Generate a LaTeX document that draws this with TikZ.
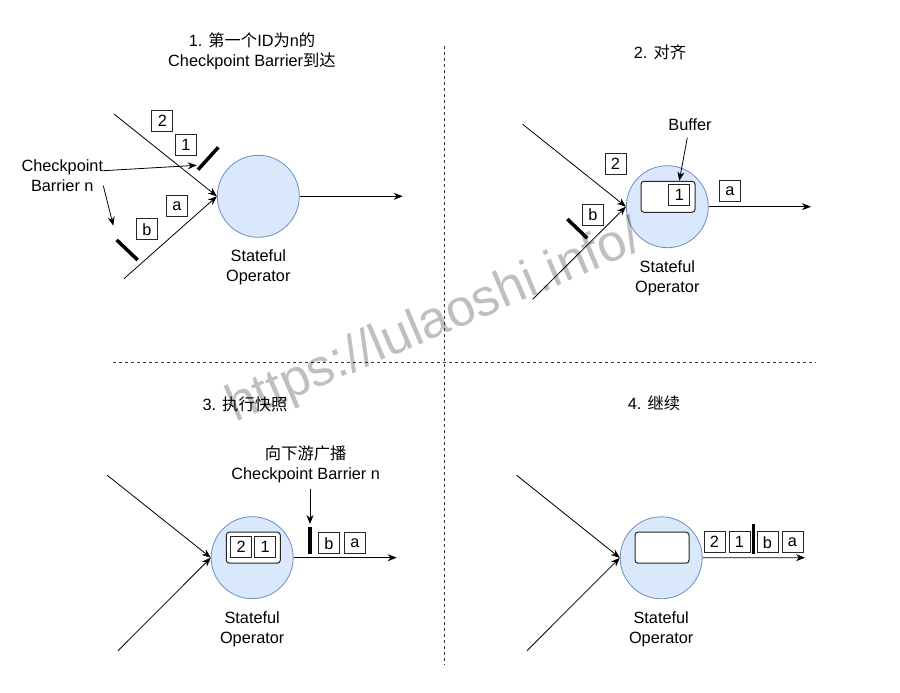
\documentclass[tikz,border=0pt]{standalone}
\usepackage{fontspec}
\setmainfont{Liberation Sans}
\newfontfamily\cjk{Noto Sans CJK SC}
\newcommand{\zhtext}[1]{{\cjk #1}}
\usetikzlibrary{positioning,arrows.meta}
\usepackage{xcolor}
\definecolor{opfill}{RGB}{218,232,252}
\definecolor{opline}{RGB}{108,142,191}

\begin{document}
\begin{tikzpicture}[x=1pt, y=-1pt, node distance=3pt,
  every node/.style={font=\fontsize{16.3}{20}\selectfont},
  op/.style={circle, draw=opline, fill=opfill, line width=0.8pt, minimum size=82pt, inner sep=0pt},
  oplabel/.style={align=center, inner sep=0pt},
  cell/.style={draw=black!85, line width=1pt, minimum size=21pt, inner sep=0pt, fill=white},
  bufbox/.style={draw=black!85, line width=1pt, rounded corners=3pt, minimum width=54pt, minimum height=31pt, fill=white},
  arr/.style={-{Stealth[length=9pt,width=7pt]}, line width=0.8pt},
  barrier/.style={line width=3.5pt},
  divider/.style={line width=1pt, black!80, dash pattern=on 3pt off 3pt}]
\useasboundingbox (0,0) rectangle (900,693);

\draw[divider] (444.3,46) -- (444.3,665);
\draw[divider] (113.3,362.3) -- (816,362.3);

\node[align=center] (title1) at (252,51.7) {1. \zhtext{第一个}ID\zhtext{为}n\zhtext{的}\\Checkpoint Barrier\zhtext{到达}};
\node[op] (op1) at (258.3,196.3) {};
\node[oplabel, below=12pt of op1] (oplbl1) {Stateful\\Operator};
\coordinate (src1a) at (114,114);
\coordinate (src1b) at (124,278.7);
\coordinate (out1) at (402.7,196.3);
\draw[arr] (src1a) -- (op1.west);
\draw[arr] (src1b) -- (op1.west);
\draw[arr] (op1.east) -- (out1);
\node[cell] (two1) at (162.3,121) {2};
\node[cell] (one1) at (186,144.7) {1};
\node[cell] (a1) at (176.8,206) {a};
\node[cell] (b1) at (146.8,229.3) {b};
\draw[barrier] (198,169.7) -- (218.3,147.3);
\draw[barrier] (116.7,240) -- (137.7,260);
\node[oplabel] (cpn) at (62.3,175.7) {Checkpoint\\Barrier n};
\coordinate (cpntip1) at (196.7,165.3);
\coordinate (cpntip2) at (113.3,225.7);
\draw[arr] ([yshift=5pt]cpn.east) -- (cpntip1);
\draw[arr] ([yshift=-10pt]cpn.east) -- (cpntip2);

\node (title2) at (660,52.3) {2. \zhtext{对齐}};
\node[op] (op2) at (667.3,206.7) {};
\node[oplabel, below=12pt of op2] (oplbl2) {Stateful\\Operator};
\coordinate (src2a) at (522.7,124.3);
\coordinate (src2b) at (532.7,299.3);
\coordinate (out2) at (811,206.7);
\draw[arr] (src2a) -- (op2.west);
\draw[arr] (src2b) -- (op2.west);
\draw[arr] (op2.east) -- (out2);
\node[cell] (two2) at (615.5,163.5) {2};
\node[cell] (b2) at (592.8,214.7) {b};
\draw[barrier] (567.3,219) -- (587.3,238.3);
\node[bufbox] (buf2) at (668,196.8) {};
\node[cell] (one2) at (679.3,195.2) {1};
\node[cell] (a2) at (729.8,191.3) {a};
\node (buflbl) at (690,124.3) {Buffer};
\draw[arr, shorten <=4pt] ([xshift=-2pt]buflbl.south) -- (one2.north |- buf2.north);

\node (title3) at (245,404) {3. \zhtext{执行快照}};
\node[op] (op3) at (252.2,557.7) {};
\node[oplabel, below=12pt of op3] (oplbl3) {Stateful\\Operator};
\coordinate (src3a) at (107.3,475.3);
\coordinate (src3b) at (118,650.7);
\coordinate (out3) at (396.7,557.7);
\draw[arr] (src3a) -- (op3.west);
\draw[arr] (src3b) -- (op3.west);
\draw[arr] (op3.east) -- (out3);
\node[bufbox] (buf3) at (253.3,547.7) {};
\node[cell] (two3) at (241.2,546.5) {2};
\node[cell, right=2pt of two3] (one3) {1};
\coordinate (bar3top) at (310,527);
\coordinate (bar3bot) at (310,554.3);
\draw[barrier] (bar3top) -- (bar3bot);
\node[cell] (b3) at (328.8,543.2) {b};
\node[cell, right=4pt of b3] (a3) {a};
\node[oplabel] (bcast) at (305.7,464.5) {\zhtext{向下游广播}\\Checkpoint Barrier n};
\draw[arr, shorten <=6pt, shorten >=3pt] (bcast.south -| bar3top) -- (bar3top);

\node (title4) at (654,403.3) {4. \zhtext{继续}};
\node[op] (op4) at (661.2,557.8) {};
\node[oplabel, below=12pt of op4] (oplbl4) {Stateful\\Operator};
\coordinate (src4a) at (516.7,475.3);
\coordinate (src4b) at (527,650.7);
\coordinate (out4) at (805,557.7);
\draw[arr] (src4a) -- (op4.west);
\draw[arr] (src4b) -- (op4.west);
\draw[arr] (op4.east) -- (out4);
\node[bufbox] (buf4) at (662,547.7) {};
\node[cell] (two4) at (714.5,542.3) {2};
\node[cell, right=3pt of two4] (one4) {1};
\draw[barrier] (753.3,524) -- (753.3,554.3);
\node[cell] (b4) at (767.5,542.3) {b};
\node[cell, right=3pt of b4] (a4) {a};

\node[rotate=23, anchor=base, text=black, opacity=0.25, font=\fontsize{52}{60}\selectfont] (mark) at (440,336) {https://lulaoshi.info/};
\end{tikzpicture}
\end{document}
